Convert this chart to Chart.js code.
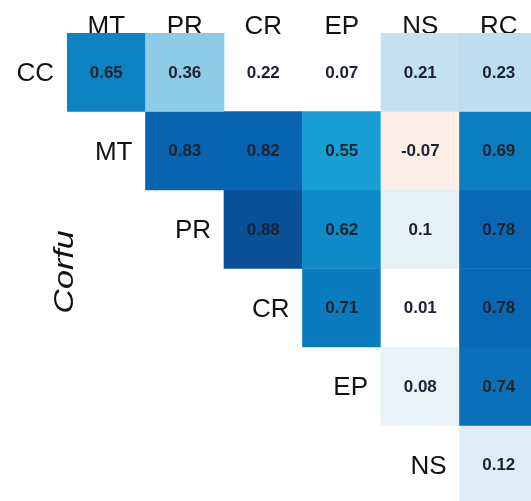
<!DOCTYPE html>
<html>
<head>
<meta charset="utf-8">
<script src="https://cdn.jsdelivr.net/npm/chart.js@4.4.1/dist/chart.umd.min.js"></script>
<style>
  html, body { margin: 0; padding: 0; background: #ffffff; overflow: hidden; width: 531px; height: 501px; }
  canvas { display: block; }
</style>
</head>
<body>
<canvas id="c" width="545" height="510"></canvas>
<script>
// ---- data ----
const columns = ['MT', 'PR', 'CR', 'EP', 'NS', 'RC'];
const rows = ['CC', 'MT', 'PR', 'CR', 'EP', 'NS'];
const rowCC = [0.65, 0.36, 0.22, 0.07, 0.21, 0.23];
const rowMT = [null, 0.83, 0.82, 0.55, -0.07, 0.69];
const rowPR = [null, null, 0.88, 0.62, 0.1, 0.78];
const rowCR = [null, null, null, 0.71, 0.01, 0.78];
const rowEP = [null, null, null, null, 0.08, 0.74];
const rowNS = [null, null, null, null, null, 0.12];
// cells left unfilled (non-significant)
const blankCells = [['CC', 'CR'], ['CC', 'EP']];
const sideTitle = 'Corfu';

const matrix = [rowCC, rowMT, rowPR, rowCR, rowEP, rowNS];

// ---- colour scale ----
const stops = [
  [-0.07, '#fdefe8'], [0, '#ffffff'], [0.01, '#ffffff'], [0.08, '#e8f3f8'], [0.12, '#dfeef6'],
  [0.21, '#c3e1ef'], [0.36, '#8ecbe5'], [0.55, '#18a0d4'], [0.62, '#0d8bc7'],
  [0.65, '#0d84c1'], [0.71, '#0a7bbd'], [0.74, '#0a70b7'], [0.78, '#0868b3'],
  [0.83, '#0864b0'], [0.88, '#0a5096']
];
function hex(h) { return [1, 3, 5].map(i => parseInt(h.substr(i, 2), 16)); }
function colorFor(v) {
  if (v <= stops[0][0]) return stops[0][1];
  for (let i = 1; i < stops.length; i++) {
    if (v <= stops[i][0]) {
      const [a, ca] = stops[i - 1], [b, cb] = stops[i];
      const t = (v - a) / (b - a);
      const A = hex(ca), B = hex(cb);
      const m = A.map((x, k) => Math.round(x + (B[k] - x) * t));
      return 'rgb(' + m.join(',') + ')';
    }
  }
  return stops[stops.length - 1][1];
}
function isBlank(r, c) {
  return blankCells.some(([a, b]) => a === rows[r] && b === columns[c]);
}

const datasets = rows.map((name, r) => ({
  label: name,
  data: matrix[r].map(v => v === null ? null : [r, r + 1]),
  backgroundColor: matrix[r].map((v, c) => v === null || isBlank(r, c) ? 'rgba(0,0,0,0)' : colorFor(v)),
  borderWidth: 0,
  grouped: false,
  barPercentage: 1,
  categoryPercentage: 1
}));

const FONT = '"Liberation Sans", Arial, sans-serif';

const labelPlugin = {
  id: 'labels',
  beforeDatasetsDraw(chart) {
    const { ctx, scales: { x, y } } = chart;
    const cw = x.getPixelForValue(1) - x.getPixelForValue(0);
    ctx.save();
    ctx.fillStyle = '#111111';
    ctx.font = '26px ' + FONT;
    // column labels
    ctx.textAlign = 'center';
    ctx.textBaseline = 'alphabetic';
    columns.forEach((c, i) => {
      ctx.fillText(c, x.getPixelForValue(i), y.top + 1);
    });
    // row labels (staircase)
    ctx.textAlign = 'right';
    ctx.textBaseline = 'middle';
    rows.forEach((r, i) => {
      const xp = x.getPixelForValue(i) - cw / 2 - 13;
      const yp = y.getPixelForValue(i + 0.5) + 2;
      ctx.fillText(r, xp, yp);
    });
    // side title
    ctx.translate(65, 272);
    ctx.rotate(-Math.PI / 2);
    ctx.scale(1.22, 1);
    ctx.font = 'italic 28px ' + FONT;
    ctx.textAlign = 'center';
    ctx.textBaseline = 'middle';
    ctx.fillText(sideTitle, 0, 0);
    ctx.restore();
  },
  afterDatasetsDraw(chart) {
    const { ctx, scales: { x, y } } = chart;
    ctx.save();
    ctx.fillStyle = '#1b2130';
    ctx.font = 'bold 17px ' + FONT;
    ctx.textAlign = 'center';
    ctx.textBaseline = 'middle';
    matrix.forEach((row, r) => {
      row.forEach((v, c) => {
        if (v === null) return;
        ctx.fillText(String(v), x.getPixelForValue(c), y.getPixelForValue(r + 0.5) + 1);
      });
    });
    ctx.restore();
  }
};

new Chart(document.getElementById('c'), {
  type: 'bar',
  data: { labels: columns, datasets },
  options: {
    responsive: false,
    animation: false,
    layout: { padding: { left: 67, top: 33, right: 7, bottom: 6 } },
    plugins: { legend: { display: false }, tooltip: { enabled: false } },
    scales: {
      x: { type: 'category', display: false, offset: true },
      y: { type: 'linear', display: false, min: 0, max: 6, reverse: true }
    }
  },
  plugins: [labelPlugin]
});
</script>
</body>
</html>
